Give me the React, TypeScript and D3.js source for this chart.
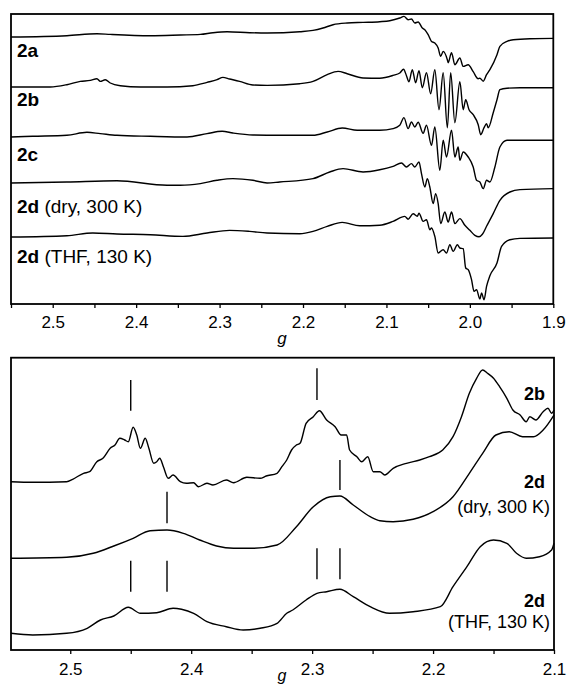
import React, { useEffect, useRef } from 'react'
import * as d3 from 'd3'

type Pt = [number, number]

// ---- upper panel: g value vs. signal (a.u., relative to trace baseline) ----
const topNames = ['2a', '2b', '2c', '2d', '2d']
const topNotes = ['', '', '', ' (dry, 300 K)', ' (THF, 130 K)']
const topOffsets = [267, 217, 167, 121, 67]

const top2a: Pt[] = [
  [2.55, 0], [2.483, 1.3], [2.447, 3.3], [2.431, 2.6], [2.383, 1.3], [2.347, 2], [2.323, 2.6],
  [2.308, 4.3], [2.291, 5.3], [2.264, 4.3], [2.243, 4], [2.204, 5.3], [2.188, 6.6], [2.176, 9],
  [2.164, 12.3], [2.147, 14], [2.128, 14.6], [2.108, 15.3], [2.096, 16.3], [2.084, 19], [2.079, 20.6],
  [2.074, 17.3], [2.07, 18], [2.066, 14], [2.062, 15], [2.057, 9], [2.054, 7.3], [2.05, 2.3],
  [2.046, -4.4], [2.042, -6], [2.038, -11], [2.035, -19.4], [2.032, -14.4], [2.027, -22.7],
  [2.026, -25.7], [2.022, -15.7], [2.018, -27.7], [2.012, -21], [2.008, -29.4], [2.002, -27.7],
  [1.996, -34.7], [1.99, -41.7], [1.988, -41.2], [1.984, -44.2], [1.98, -37.7], [1.976, -32.7],
  [1.9675, -17.7], [1.964, -9.4], [1.9555, -4.4], [1.948, -2.7], [1.928, -1.7], [1.9, -1.4],
]
const top2b: Pt[] = [
  [2.55, 0], [2.503, 0], [2.483, 2.3], [2.467, 5.6], [2.455, 6.6], [2.447, 8.3], [2.443, 5.6],
  [2.437, 7.3], [2.431, 4], [2.419, 1.3], [2.395, 0], [2.363, 0], [2.332, 1.3], [2.315, 4.6],
  [2.303, 7.3], [2.296, 9.6], [2.288, 8], [2.276, 5.6], [2.26, 2], [2.243, 1.6], [2.204, 3.3],
  [2.188, 5.6], [2.171, 12.3], [2.158, 15.6], [2.147, 13.3], [2.128, 9], [2.108, 8.8], [2.092, 11.6],
  [2.084, 14], [2.0795, 17.8], [2.076, 11.3], [2.073, 5.3], [2.069, 17.3], [2.065, 4.3], [2.061, 16.3],
  [2.057, -0.7], [2.052, 14.3], [2.047, -6.7], [2.042, 17.3], [2.037, -22.7], [2.032, 14.3],
  [2.027, -40.7], [2.023, 14.3], [2.018, -35.7], [2.012, 5.3], [2.008, -22.7], [2.005, -12.7],
  [2.001, -22.7], [1.996, -27.7], [1.99, -37.7], [1.987, -47.7], [1.983, -40.7], [1.98, -36.7],
  [1.978, -40.7], [1.972, -25.7], [1.9675, -12.7], [1.964, -2.7], [1.9555, -1.2], [1.94, -0.7], [1.9, -0.7],
]
const top2c: Pt[] = [
  [2.55, 0], [2.524, 0.7], [2.483, 1.7], [2.459, 4.7], [2.443, 3.4], [2.423, 1.7], [2.383, 0.7],
  [2.339, 0], [2.315, 3.4], [2.297, 5.7], [2.284, 4], [2.26, 2], [2.228, 1.7], [2.188, 1.7],
  [2.171, 5], [2.153, 9], [2.135, 6.7], [2.108, 6.7], [2.092, 8.4], [2.084, 11.7], [2.079, 19.4],
  [2.074, 8.4], [2.07, 15], [2.066, 10], [2.062, 14.7], [2.056, 3.7], [2.052, 11.7], [2.046, -8.3],
  [2.042, 10], [2.036, -33.3], [2.032, -3.3], [2.028, -20], [2.022, 6.7], [2.018, -20], [2.014, -10],
  [2.012, -23.3], [2.008, -15], [2.002, -20], [1.996, -30], [1.992, -43.3], [1.988, -45],
  [1.984, -51.6], [1.98, -43.3], [1.976, -45], [1.97, -30], [1.964, -10], [1.9555, -3.3], [1.9, -3.3],
]
const top2dDry: Pt[] = [
  [2.55, 0], [2.483, 1], [2.423, 2.2], [2.363, -2.3], [2.347, -2.3], [2.323, -0.6], [2.303, 2.7],
  [2.284, 4.4], [2.26, 2.7], [2.243, 0], [2.228, 1], [2.188, 4.4], [2.168, 11], [2.152, 14.4],
  [2.128, 11], [2.108, 13.2], [2.092, 16.7], [2.082, 20], [2.076, 16], [2.07, 19.4], [2.066, 16],
  [2.061, 21], [2.058, 9.4], [2.054, -4], [2.051, 4.4], [2.048, -4], [2.044, -20.6], [2.041, -10.6],
  [2.038, -20.6], [2.035, -40.6], [2.03, -29], [2.026, -39], [2.022, -29], [2.018, -40.6],
  [2.012, -35.6], [2.006, -42.3], [2.0, -47.3], [1.994, -52.3], [1.989, -53.8], [1.985, -51.3],
  [1.98, -43.3], [1.972, -30.6], [1.964, -17.3], [1.952, -9], [1.94, -6.6], [1.9, -5.6],
]
const top2dThf: Pt[] = [
  [2.55, 0], [2.483, 1.3], [2.452, 4], [2.423, 3], [2.383, 2.3], [2.344, 0.6], [2.315, 4],
  [2.288, 6.6], [2.264, 5.6], [2.243, 4], [2.204, 3.3], [2.188, 5.6], [2.171, 10.6], [2.153, 14.6],
  [2.132, 11.3], [2.108, 11.8], [2.092, 15.6], [2.078, 20.6], [2.074, 17.8], [2.068, 23.3],
  [2.063, 20.8], [2.061, 23.8], [2.056, 15.6], [2.052, 17.3], [2.048, 7.3], [2.046, 9], [2.042, 0.6],
  [2.038, -16], [2.032, -12.7], [2.028, -16], [2.024, -7.7], [2.02, -14.4], [2.015, -7.7],
  [2.012, -11], [2.008, -11.7], [2.005, -31], [2.002, -32.7], [1.998, -42.7], [1.995, -54.4],
  [1.992, -52.7], [1.988, -62], [1.986, -56], [1.983, -62.7], [1.98, -49.4], [1.976, -38.7],
  [1.9675, -26], [1.962, -9.4], [1.952, -2.7], [1.94, -1.4], [1.9, -1],
]
const topSpectra = [top2a, top2b, top2c, top2dDry, top2dThf]
const topTicks = [2.5, 2.4, 2.3, 2.2, 2.1, 2.0, 1.9]
const topMinor = [2.55, 2.45, 2.35, 2.25, 2.15, 2.05, 1.95]

// ---- lower panel: expanded low-field region ----
const botNames = ['2b', '2d', '2d']
const botNotes = ['', '(dry, 300 K)', '(THF, 130 K)']
const botOffsets = [168.3, 91.7, 16.7]

const bot2b: Pt[] = [
  [2.549, 0], [2.531, -0.6], [2.503, 0], [2.498, 2.4], [2.489, 8.4], [2.484, 10], [2.478, 20],
  [2.473, 23.4], [2.467, 33.4], [2.463, 36.7], [2.459, 43.4], [2.455, 41.7], [2.452, 40],
  [2.448, 54.4], [2.445, 46.7], [2.442, 33.4], [2.438, 43.4], [2.435, 33.4], [2.431, 18.4],
  [2.4285, 20], [2.426, 23.4], [2.423, 15], [2.419, 3.4], [2.415, 6.7], [2.409, 0], [2.404, -1.6],
  [2.398, -1], [2.394, -5], [2.387, -1.6], [2.382, -3.3], [2.371, 1.7], [2.365, -1], [2.354, 4.4],
  [2.343, 3.4], [2.338, 5.7], [2.329, 8.4], [2.325, 15], [2.321, 21.7], [2.317, 31.7], [2.313, 36.7],
  [2.31, 38.4], [2.305, 58.4], [2.299, 65], [2.294, 71], [2.288, 61.7], [2.281, 55], [2.276, 46.7],
  [2.2715, 46.7], [2.269, 31.7], [2.263, 25], [2.259, 20], [2.254, 25], [2.2495, 10], [2.244, 10],
  [2.24, 6.7], [2.233, 13.4], [2.222, 18.4], [2.211, 21.7], [2.203, 25], [2.192, 31.7],
  [2.1835, 45], [2.1765, 65], [2.17, 88.4], [2.164, 103.4], [2.159, 111.7], [2.155, 108.4],
  [2.15, 103.4], [2.145, 95], [2.139, 83.4], [2.134, 71.7], [2.128, 66.7], [2.123, 60], [2.12, 65],
  [2.115, 61.7], [2.109, 70], [2.105, 73.4], [2.102, 68.4], [2.1, 71.7],
]
const bot2dDry: Pt[] = [
  [2.549, 0], [2.503, 1], [2.481, 5], [2.464, 12.3], [2.448, 20], [2.434, 27.6], [2.42, 28.3],
  [2.4065, 25], [2.393, 18.3], [2.379, 12.3], [2.365, 10], [2.349, 10], [2.329, 13.3], [2.313, 31.6],
  [2.299, 51.6], [2.285, 61.6], [2.277, 62.3], [2.266, 53.3], [2.252, 41.6], [2.244, 37.6],
  [2.233, 36.6], [2.2165, 39], [2.2, 46.6], [2.1835, 61.6], [2.17, 85], [2.159, 105], [2.148, 123.3],
  [2.137, 126.6], [2.126, 121.6], [2.117, 121.6], [2.109, 128.3], [2.1, 143.3],
]
const bot2dThf: Pt[] = [
  [2.549, 0], [2.531, -1.7], [2.503, 0], [2.486, 5], [2.475, 13.3], [2.464, 17.3], [2.452, 26],
  [2.442, 20], [2.4285, 20.6], [2.415, 25], [2.408, 24], [2.398, 20], [2.387, 11.6], [2.371, 6.6],
  [2.357, 3.3], [2.343, 5], [2.329, 10], [2.321, 20], [2.316, 23.3], [2.305, 33.3], [2.296, 40],
  [2.288, 41.6], [2.277, 44], [2.266, 36.6], [2.252, 26.6], [2.236, 20], [2.2165, 21.6],
  [2.194, 26.6], [2.1835, 46.6], [2.172, 66.6], [2.161, 86.6], [2.15, 93.3], [2.139, 90],
  [2.131, 80], [2.123, 75], [2.112, 76.6], [2.102, 83.3], [2.1, 90],
]
const botSpectra = [bot2b, bot2dDry, bot2dThf]

// peak markers: g position, trace index, low/high end (a.u. above trace baseline)
const markG = [2.45, 2.296, 2.42, 2.277, 2.45, 2.42, 2.296, 2.277]
const markTrace = [0, 0, 1, 1, 2, 2, 2, 2]
const markLo = [71, 81.7, 35, 68.3, 41.6, 41.6, 54, 54]
const markHi = [101.7, 113.4, 66.6, 98.3, 72.6, 72.6, 85, 85]

const botTicks = [2.5, 2.4, 2.3, 2.2, 2.1]
const botMinor = [2.45, 2.35, 2.25, 2.15]

const W = 569
const H = 686
const FONT = 'Liberation Sans, Arial, Helvetica, sans-serif'

const App: React.FC = () => {
  const svgRef = useRef<SVGSVGElement>(null)

  useEffect(() => {
    const svg = d3.select(svgRef.current)
    svg.selectAll('*').remove()

    const drawAxis = (
      x: d3.ScaleLinear<number, number>,
      y0: number,
      major: number[],
      minor: number[],
      pad: number,
    ) => {
      const gMinor = svg.append('g')
        .attr('transform', `translate(0,${y0})`)
        .call(d3.axisBottom(x).tickValues(minor).tickSize(4).tickFormat(() => ''))
      const gMajor = svg.append('g')
        .attr('transform', `translate(0,${y0})`)
        .call(d3.axisBottom(x).tickValues(major).tickSize(4).tickPadding(pad).tickFormat(d3.format('.1f')))
      ;[gMinor, gMajor].forEach(a => {
        a.select('.domain').remove()
        a.selectAll('line').attr('stroke', '#000').attr('stroke-width', 1.3)
      })
      gMajor.selectAll('text')
        .attr('font-family', FONT)
        .attr('font-size', 17)
        .attr('fill', '#000')
    }

    // ---------- upper panel ----------
    const xTop = d3.scaleLinear().domain([2.55, 1.9]).range([11, 553.3])
    const yTop = d3.scaleLinear().domain([0, 290]).range([304, 14])

    topSpectra.forEach((s, i) => {
      const line = d3.line<Pt>()
        .x(d => xTop(d[0]))
        .y(d => yTop(d[1] + topOffsets[i]))
        .curve(d3.curveMonotoneX)
      svg.append('path')
        .datum(s)
        .attr('d', line)
        .attr('fill', 'none')
        .attr('stroke', '#000')
        .attr('stroke-width', 1.4)
        .attr('stroke-linejoin', 'round')
    })

    const topLabelY = [57, 106, 161, 213, 263]
    topNames.forEach((n, i) => {
      const t = svg.append('text')
        .attr('x', 17)
        .attr('y', topLabelY[i])
        .attr('font-family', FONT)
        .attr('font-size', 19)
        .attr('fill', '#000')
      t.append('tspan').attr('font-weight', 'bold').text(n)
      if (topNotes[i]) t.append('tspan').attr('xml:space', 'preserve').text(topNotes[i])
    })

    svg.append('rect')
      .attr('x', 11).attr('y', 14)
      .attr('width', 542.3).attr('height', 290)
      .attr('fill', 'none').attr('stroke', '#000').attr('stroke-width', 1.8)

    drawAxis(xTop, 304, topTicks, topMinor, 8)

    svg.append('text')
      .attr('x', 282).attr('y', 344)
      .attr('text-anchor', 'middle')
      .attr('font-family', FONT).attr('font-style', 'italic').attr('font-size', 17)
      .text('g')

    // ---------- lower panel ----------
    const xBot = d3.scaleLinear().domain([2.549, 2.1]).range([11, 554])
    const yBot = d3.scaleLinear().domain([0, 292.3]).range([650, 357.7])

    botSpectra.forEach((s, i) => {
      const line = d3.line<Pt>()
        .x(d => xBot(d[0]))
        .y(d => yBot(d[1] + botOffsets[i]))
        .curve(d3.curveMonotoneX)
      svg.append('path')
        .datum(s)
        .attr('d', line)
        .attr('fill', 'none')
        .attr('stroke', '#000')
        .attr('stroke-width', 1.4)
        .attr('stroke-linejoin', 'round')
    })

    markG.forEach((g, i) => {
      const off = botOffsets[markTrace[i]]
      svg.append('line')
        .attr('x1', xBot(g)).attr('x2', xBot(g))
        .attr('y1', yBot(off + markLo[i])).attr('y2', yBot(off + markHi[i]))
        .attr('stroke', '#000').attr('stroke-width', 1.4)
    })

    const botNameY = [400, 488, 607]
    const botNoteY = [0, 513, 628]
    botNames.forEach((n, i) => {
      svg.append('text')
        .attr('x', 545).attr('y', botNameY[i])
        .attr('text-anchor', 'end')
        .attr('font-family', FONT).attr('font-size', 18).attr('font-weight', 'bold')
        .text(n)
      if (botNotes[i]) {
        svg.append('text')
          .attr('x', 550).attr('y', botNoteY[i])
          .attr('text-anchor', 'end')
          .attr('font-family', FONT).attr('font-size', 18)
          .text(botNotes[i])
      }
    })

    svg.append('rect')
      .attr('x', 11).attr('y', 357.7)
      .attr('width', 543).attr('height', 292.3)
      .attr('fill', 'none').attr('stroke', '#000').attr('stroke-width', 1.8)

    drawAxis(xBot, 650, botTicks, botMinor, 9)

    svg.append('text')
      .attr('x', 282).attr('y', 681)
      .attr('text-anchor', 'middle')
      .attr('font-family', FONT).attr('font-style', 'italic').attr('font-size', 16)
      .text('g')
  }, [])

  return (
    <div style={{ position: 'absolute', left: 0, top: 0, width: W, height: H, background: '#fff' }}>
      <svg ref={svgRef} width={W} height={H} style={{ display: 'block' }} />
    </div>
  )
}

export default App
